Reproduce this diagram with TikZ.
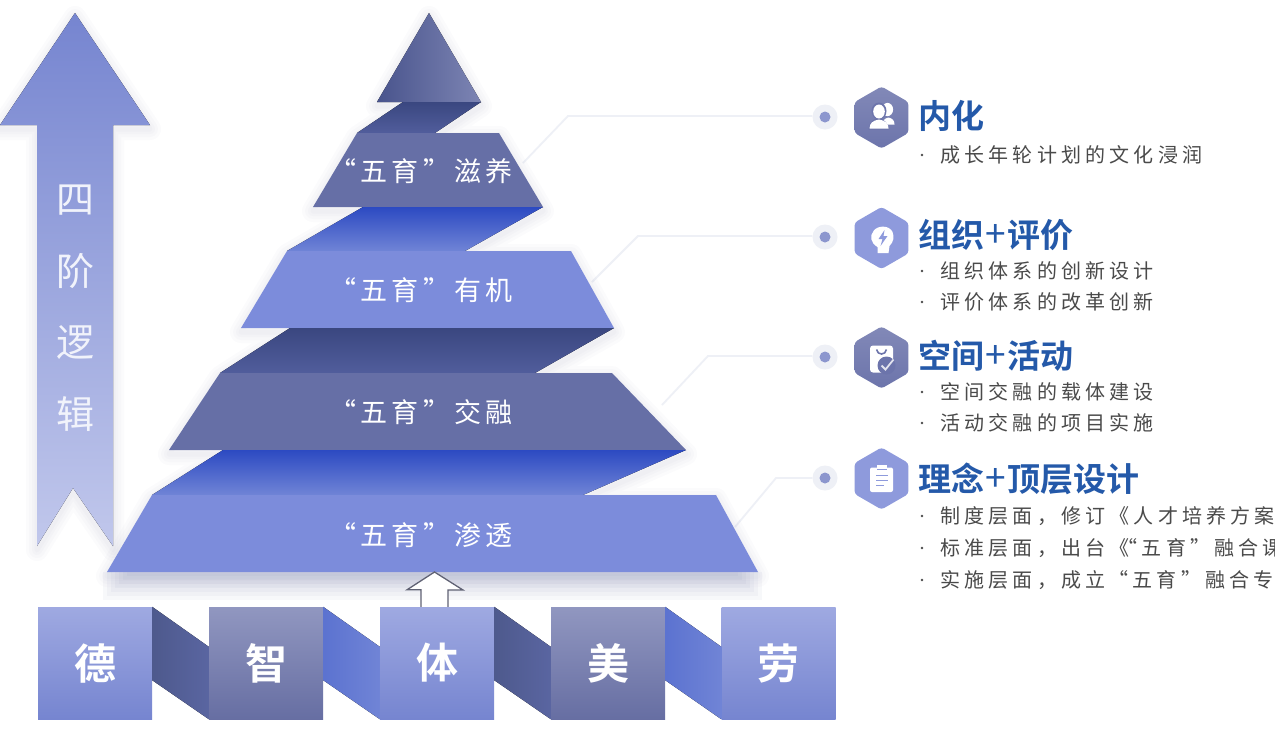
\documentclass[tikz,border=0pt]{standalone}
\usepackage{fontspec}
\setmainfont{Noto Sans CJK SC}[BoldFont={Noto Sans CJK SC Bold}]
\newfontfamily\bodyf{Noto Sans CJK SC}[LetterSpace=21]
\newfontfamily\layf{Noto Sans CJK SC}[LetterSpace=15]
\usetikzlibrary{shapes.geometric,calc}
\definecolor{trapDark}{HTML}{666FA6}
\definecolor{trapLight}{HTML}{7C8CDB}
\definecolor{ribDarkA}{HTML}{3A4780}
\definecolor{ribDarkB}{HTML}{515D9C}
\definecolor{ribBlueA}{HTML}{2C4AC2}
\definecolor{ribBlueB}{HTML}{7084D6}
\definecolor{hexDark}{HTML}{6C74AB}
\definecolor{hexLight}{HTML}{8E9ADC}
\definecolor{headBlue}{HTML}{2459A9}
\definecolor{bodyGrey}{HTML}{4A4A4A}
\definecolor{shadowC}{HTML}{5A649C}
\definecolor{leadC}{HTML}{EEF0F6}
\tikzset{
  x=1pt,y=-1pt,
  trapdark/.style={fill=trapDark},
  traplight/.style={fill=trapLight},
  ribdark/.style={top color=ribDarkA,bottom color=ribDarkB},
  ribblue/.style={top color=ribBlueA,bottom color=ribBlueB},
  laylabel/.style={text=white,font=\layf\fontsize{27}{27}\selectfont,inner sep=0pt},
  sqlight/.style={top color=hexLight!85!white,bottom color=trapLight!95!black},
  sqdark/.style={top color=hexDark!75!white,bottom color=hexDark!95!black},
  square/.style={minimum width=114pt,minimum height=112pt,inner sep=0pt,text=white,font=\bfseries\fontsize{42}{42}\selectfont},
  linkdark/.style={left color=ribDarkA!90!white,right color=ribDarkB!95!white},
  linkblue/.style={left color=ribBlueB!70!ribBlueA,right color=ribBlueB},
  leader/.style={draw=leadC,line width=1.8pt},
  dotouter/.style={circle,fill=leadC,minimum size=25pt,inner sep=0pt},
  dotinner/.style={circle,fill=hexLight!85!gray,minimum size=11pt,inner sep=0pt},
  hex/.style={regular polygon,regular polygon sides=6,shape border rotate=30,minimum size=62pt,inner sep=0pt,rounded corners=3pt},
  heading/.style={anchor=west,text=headBlue,inner sep=0pt,font=\bfseries\fontsize{33}{33}\selectfont},
  bullet/.style={anchor=west,text=bodyGrey,inner sep=0pt,font=\bodyf\fontsize{20}{20}\selectfont},
  icon/.style={fill=white,draw=none}
}
\newcommand{\softsh}[1]{\foreach \w in {22,16,10,5}{\draw[shadowC,opacity=.022,line width=\w pt,line join=round,shift={(0,4)}] #1;}}
\newcommand{\plusm}{\kern1.5pt{\mdseries\fontsize{37}{37}\selectfont +}\kern1.5pt}
\begin{document}
\begin{tikzpicture}
\useasboundingbox (0,0) rectangle (1275,729);
\fill[white] (0,0) rectangle (1275,729);
% left arrow
\softsh{(75,13)--(150,125)--(113,125)--(113,546)--(73,488)--(37,546)--(37,125)--(0,125)--cycle}
\fill[top color=trapLight!95!black,bottom color=hexLight!55!white]
  (75,13)--(150,125)--(113,125)--(113,546)--(73,488)--(37,546)--(37,125)--(0,125)--cycle;
\node[text=white!88!hexLight,align=center,inner sep=0pt,font=\fontsize{38}{71.5}\selectfont] (logic) at (75,308) {四\\阶\\逻\\辑};
% leader lines
\coordinate (l1a) at (523,163); \coordinate (l1b) at (568,116);
\coordinate (l2a) at (592,282); \coordinate (l2b) at (638,236);
\coordinate (l3a) at (662,405); \coordinate (l3b) at (708,356);
\coordinate (l4a) at (735,527); \coordinate (l4b) at (776,478);
\node[dotouter] (d1) at (825,117) {}; \node[dotinner] (di1) at (825,117) {};
\node[dotouter] (d2) at (825,237) {}; \node[dotinner] (di2) at (825,237) {};
\node[dotouter] (d3) at (825,357) {}; \node[dotinner] (di3) at (825,357) {};
\node[dotouter] (d4) at (825,478) {}; \node[dotinner] (di4) at (825,478) {};
\draw[leader] (l1a)--(l1b)--(d1.west|-l1b);
\draw[leader] (l2a)--(l2b)--(d2.west|-l2b);
\draw[leader] (l3a)--(l3b)--(d3.west|-l3b);
\draw[leader] (l4a)--(l4b)--(d4.west|-l4b);
% pyramid shadows
\softsh{(107,572)--(152,495)--(223,450)--(169,450)--(220,373)--(290,328)--(241,328)--(287,251)--(363,207)--(313,207)--(357,133)--(403,102)--(377,102)--(429,13)--(481,102)--(435,133)--(499,133)--(543,207)--(465,251)--(571,251)--(614,328)--(535,373)--(612,373)--(686,450)--(583,495)--(716,495)--(758,572)--cycle}
\foreach \i in {0,...,6}{\fill[shadowC,opacity=.045] ({103+\i*4},572) rectangle ({762-\i*4},{600-\i*4});}
% pyramid
\fill[left color=ribDarkB!90!black,right color=trapDark!85!white] (429,13)--(481,102)--(377,102)--cycle;
\fill[ribdark] (403,102)--(481,102)--(435,133)--(357,133)--cycle;
\fill[trapdark] (357,133)--(499,133)--(543,207)--(313,207)--cycle;
\fill[ribblue] (363,207)--(543,207)--(465,251)--(287,251)--cycle;
\fill[traplight] (287,251)--(571,251)--(614,328)--(241,328)--cycle;
\fill[ribdark] (290,328)--(614,328)--(535,373)--(220,373)--cycle;
\fill[trapdark] (220,373)--(612,373)--(686,450)--(169,450)--cycle;
\fill[ribblue] (223,450)--(686,450)--(583,495)--(152,495)--cycle;
\fill[traplight] (152,495)--(716,495)--(758,572)--(107,572)--cycle;
\node[laylabel] (t1) at (421,171) {“五育”滋养};
\node[laylabel] (t2) at (421,290) {“五育”有机};
\node[laylabel] (t3) at (421,412) {“五育”交融};
\node[laylabel] (t4) at (421,535) {“五育”渗透};
% squares
\node[square,sqlight] (s1) at (95,663) {\raisebox{2pt}{德}};
\node[square,sqdark]  (s2) at (266,663) {\raisebox{2pt}{智}};
\node[square,sqlight] (s3) at (437,663) {\raisebox{2pt}{体}};
\node[square,sqdark]  (s4) at (608,663) {\raisebox{2pt}{美}};
\node[square,sqlight] (s5) at (778.5,663) {\raisebox{2pt}{劳}};
% hollow arrow
\coordinate (ha) at (434.5,572);
\draw[draw=gray!60!hexDark!80!black,fill=white,line width=1.3pt,line join=miter]
  ($(s3.north)+(-16,0)$) -- ++(0,-17) -- ++(-14,0) -- (ha) -- (463,590) -- ++(-15,0) -- ($(s3.north)+(11,0)$);
% links
\fill[linkdark] (s1.north east)--($(s2.north west)+(0,40)$)--(s2.south west)--($(s1.south east)+(0,-39)$)--cycle;
\fill[linkblue] (s2.north east)--($(s3.north west)+(0,40)$)--(s3.south west)--($(s2.south east)+(0,-39)$)--cycle;
\fill[linkdark] (s3.north east)--($(s4.north west)+(0,40)$)--(s4.south west)--($(s3.south east)+(0,-39)$)--cycle;
\fill[linkblue] (s4.north east)--($(s5.north west)+(0,40)$)--(s5.south west)--($(s4.south east)+(0,-39)$)--cycle;
% hexagons
\node[hex,top color=hexDark!85!white,bottom color=hexDark] (h1) at (881.5,117.5) {};
\node[hex,fill=hexLight] (h2) at (881.5,238) {};
\node[hex,top color=hexDark!85!white,bottom color=hexDark] (h3) at (881.5,357.5) {};
\node[hex,fill=hexLight] (h4) at (881.5,478.5) {};
% icon people
\begin{scope}[shift={(h1.center)}]
  \fill[icon] (6,-8) circle (5.6 and 6.6);
  \fill[icon] (1,7) .. controls (1,3) and (3,1) .. (7,0) .. controls (11,1) and (13,3) .. (13,7) -- cycle;
  \fill[hexDark] (-2.5,-6.5) circle (7.5 and 8.5);
  \fill[hexDark] (-13,12) .. controls (-13,6) and (-9,2) .. (-3,0) .. controls (3,2) and (7,6) .. (7,12) -- cycle;
  \fill[icon] (-2.5,-6) circle (5.8 and 7);
  \fill[icon] (-12,11) .. controls (-12,6) and (-9,3) .. (-2.5,2) .. controls (4,3) and (7,6) .. (7,11) -- cycle;
\end{scope}
% icon head
\begin{scope}[shift={(h2.center)}]
  \fill[icon] (-4,15) -- (-4,9) .. controls (-11,5) and (-12,-2) .. (-8,-7) .. controls (-4,-13) and (8,-13) .. (11,-6) .. controls (13,-1) and (12,4) .. (8,8) -- (7,15) -- cycle;
  \fill[hexLight] (3,-8) -- (-3,1) -- (1,1) -- (-1,8) -- (6,-2) -- (2,-2) -- cycle;
\end{scope}
% icon clipboard with check
\begin{scope}[shift={(h3.center)}]
  \fill[icon,rounded corners=3pt] (-11.5,-12) rectangle (11.5,15);
  \draw[hexDark,line width=1.6pt] (-5,-8) .. controls (-4,-2) and (4,-2) .. (5,-8);
  \fill[hexDark] (5,8) circle (9);
  \draw[white!80!hexDark,line width=1.8pt] (0,8) -- (4,12) -- (12,2);
\end{scope}
% icon clipboard lines
\begin{scope}[shift={(h4.center)}]
  \fill[icon,rounded corners=2pt] (-11.5,-11) rectangle (11.5,13.5);
  \fill[icon] (-5,-13.5) rectangle (5,-9);
  \fill[hexLight] (-5,-9.5) rectangle (5,-8.2);
  \fill[hexLight] (-6,-4) rectangle (6,-2.2);
  \fill[hexLight] (-6,1) rectangle (6,2.8);
  \fill[hexLight] (-6,6) rectangle (2,7.8);
\end{scope}
% headings
\node[heading] (a1) at (918,116) {内化};
\node[heading] (a2) at (918,235) {组织\plusm 评价};
\node[heading] (a3) at (918,356) {空间\plusm 活动};
\node[heading] (a4) at (918,479) {理念\plusm 顶层设计};
% bullets
\foreach \n/\y/\t in {
 b11/155/成长年轮计划的文化浸润,
 b21/271/组织体系的创新设计,
 b22/302/评价体系的改革创新,
 b31/392/空间交融的载体建设,
 b32/423/活动交融的项目实施,
 b41/516/{制度层面，修订《人才培养方案},
 b42/548/{标准层面，出台《\kern-12pt“五育”融合课},
 b43/580/{实施层面，成立\kern3pt“五育”融合专}}{
  \node[bullet] (\n) at (940,\y) {\t};
  \fill[bodyGrey] (922,\y) circle (1.3);
}
\end{tikzpicture}
\end{document}
